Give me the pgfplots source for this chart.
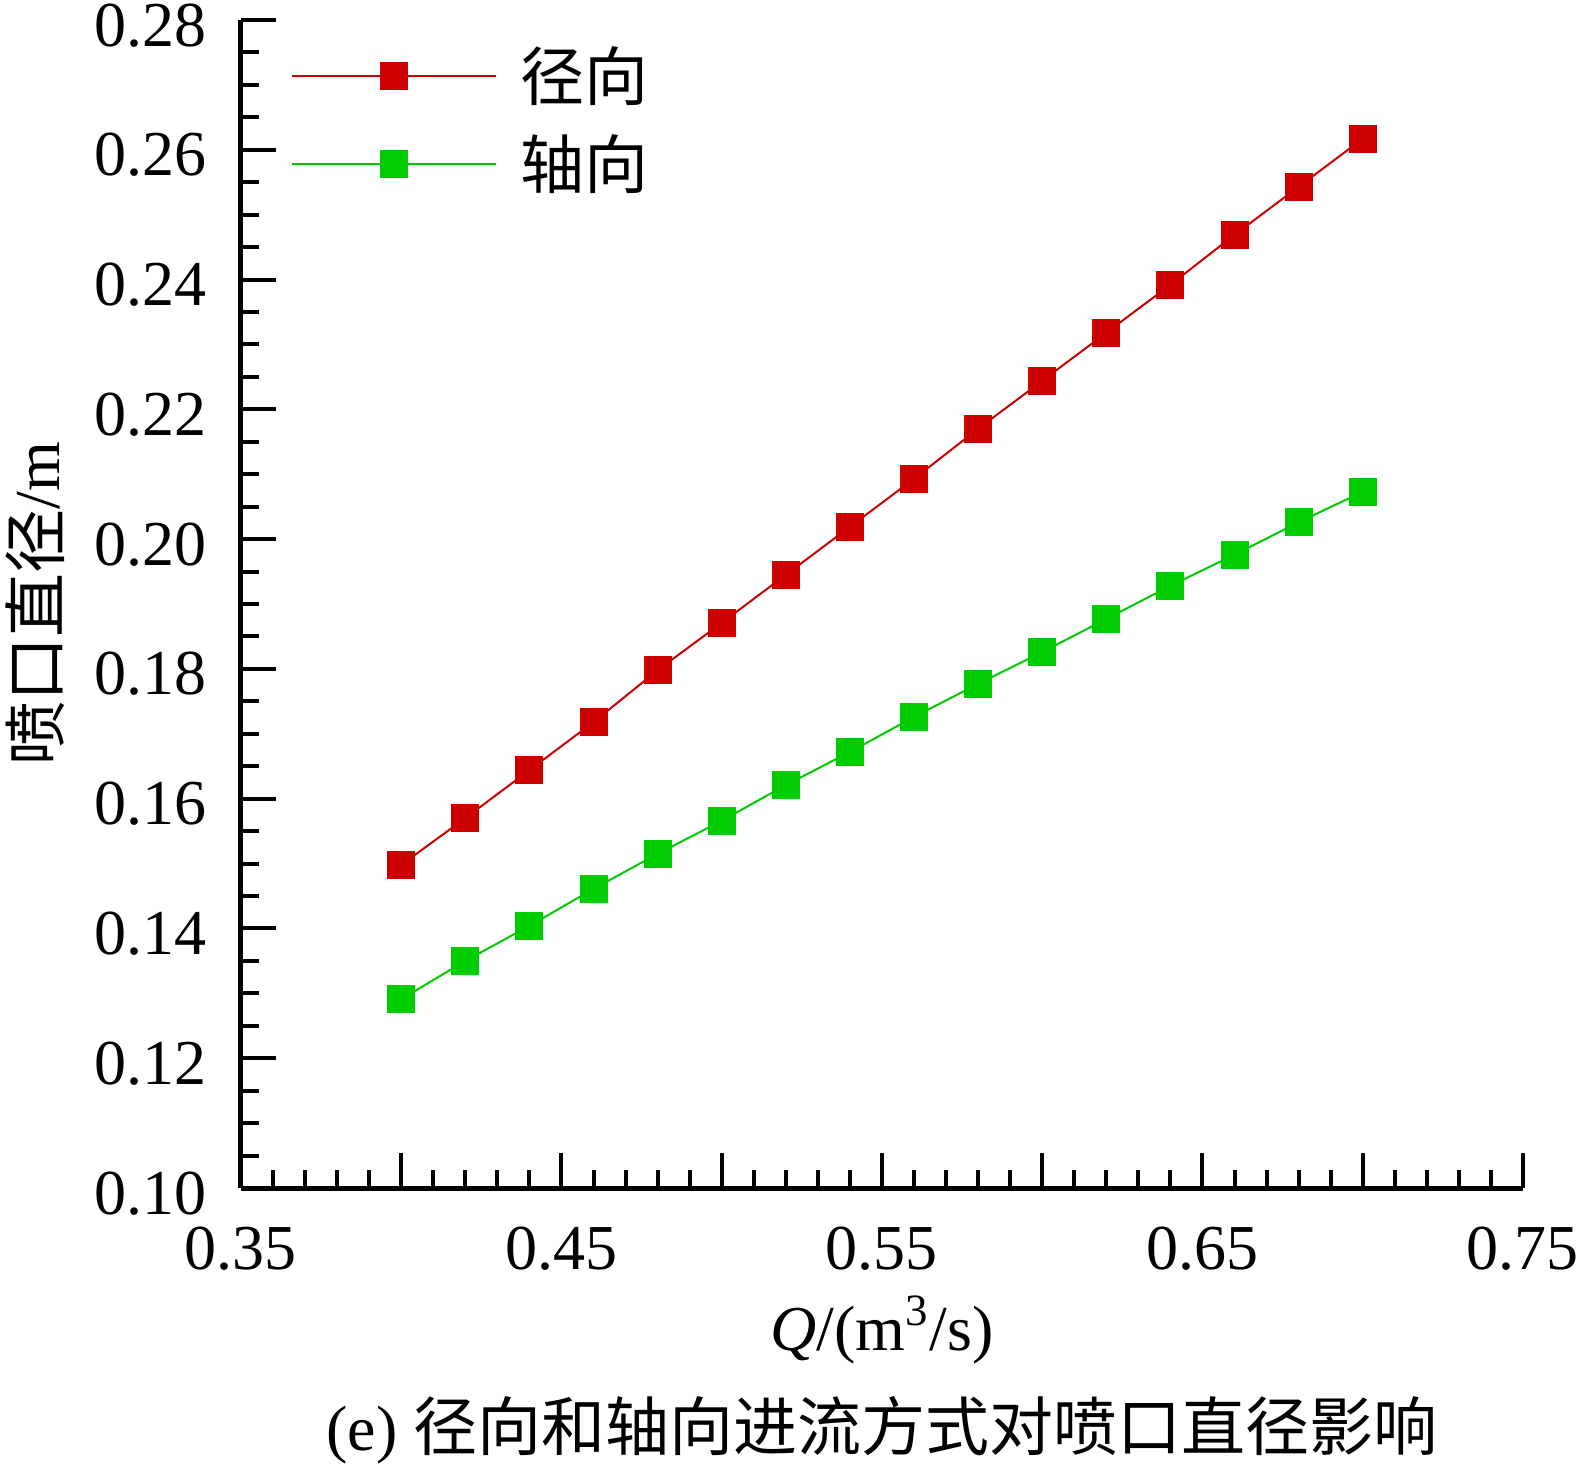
\documentclass[border=0pt]{standalone}
\usepackage{pgfplots}
\pgfplotsset{compat=1.18}
\usepackage{fontspec}
\setmainfont{Liberation Serif}
\newfontfamily\cjk{Noto Sans CJK SC}
\definecolor{myred}{RGB}{204,0,0}
\definecolor{mygreen}{RGB}{0,204,0}
\begin{document}
\begin{tikzpicture}
\useasboundingbox (-60.25pt,-72.75pt) rectangle (335.75pt,297pt);
\begin{axis}[
  at={(0,0)}, anchor=south west,
  scale only axis, width=320.5pt, height=292pt,
  xmin=0.35, xmax=0.75, ymin=0.10, ymax=0.28,
  axis x line=bottom, axis y line=left,
  axis line style={-, line width=1.25pt, black},
  xtick={0.35,0.45,0.55,0.65,0.75},
  extra x ticks={0.40,0.50,0.60,0.70}, extra x tick labels={},
  minor x tick num=9,
  ytick={0.10,0.12,0.14,0.16,0.18,0.20,0.22,0.24,0.26,0.28},
  minor y tick num=3,
  tick align=inside,
  major tick length=8.75pt, minor tick length=4.5pt,
  every tick/.style={black, line width=1pt},
  /pgf/number format/assume math mode=true,
  /pgf/number format/.cd, fixed, fixed zerofill, precision=2, /pgfplots/.cd,
  tick label style={font=\fontsize{16}{19}\selectfont, inner sep=1pt},
  xticklabel style={yshift=-8.5pt},
  yticklabel style={xshift=-7.5pt, yshift=-1.3pt},
  xlabel={\textit{Q}/(m\textsuperscript{3}/s)},
  ylabel={{\cjk 喷口直径}/m},
  every axis x label/.style={at={(axis description cs:0.5,-0.1216)}, anchor=center, font=\fontsize{16}{19}\selectfont, inner sep=0pt},
  every axis y label/.style={at={(axis description cs:-0.1607,0.5)}, rotate=90, anchor=center, font=\fontsize{16}{19}\selectfont, inner sep=0pt},
  legend style={at={(rel axis cs:0.038,0.985)}, anchor=north west, draw=none, fill=none,
    font=\cjk\fontsize{16}{19}\selectfont, row sep=3pt, inner sep=0pt},
  legend cell align=left,
  legend image code/.code={\draw[mark repeat=2,mark phase=2,#1] plot coordinates {(0pt,0pt) (25.5pt,0pt) (51pt,0pt)};},
  clip=false,
]
\addplot[myred, line width=0.5pt, mark=square*, mark size=3.25pt, mark options={solid, fill=myred, draw=myred}] coordinates {
(0.40,0.1498) (0.42,0.1570) (0.44,0.1644) (0.46,0.1718) (0.48,0.1798) (0.50,0.1871)
(0.52,0.1945) (0.54,0.2019) (0.56,0.2093) (0.58,0.2170) (0.60,0.2244) (0.62,0.2318)
(0.64,0.2392) (0.66,0.2469) (0.68,0.2543) (0.70,0.2617)};
\addlegendentry{\hspace{4pt}径向}
\addplot[mygreen, line width=0.5pt, mark=square*, mark size=3.25pt, mark options={solid, fill=mygreen, draw=mygreen}] coordinates {
(0.40,0.1291) (0.42,0.1350) (0.44,0.1404) (0.46,0.1461) (0.48,0.1515) (0.50,0.1566)
(0.52,0.1621) (0.54,0.1672) (0.56,0.1726) (0.58,0.1777) (0.60,0.1826) (0.62,0.1877)
(0.64,0.1928) (0.66,0.1976) (0.68,0.2026) (0.70,0.2073)};
\addlegendentry{\hspace{4pt}轴向}
\node[font=\fontsize{16}{19}\selectfont, inner sep=0pt] at (axis description cs:0.5,-0.207) {(e) {\cjk 径向和轴向进流方式对喷口直径影响}};
\end{axis}
\end{tikzpicture}
\end{document}
